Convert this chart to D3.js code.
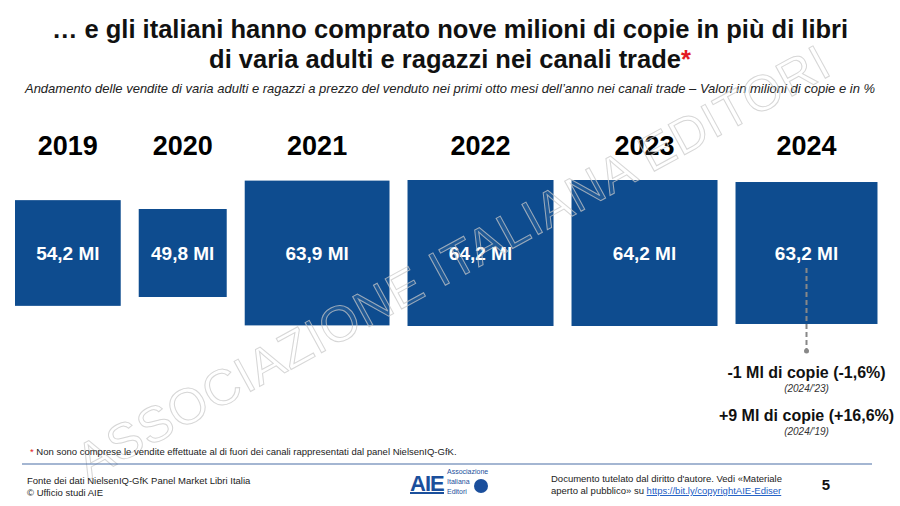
<!DOCTYPE html>
<meta charset="utf-8">
<html lang="it">
<head>
<script src="https://cdn.jsdelivr.net/npm/d3@7"></script>
<style>
  body { margin: 0; background: #fff; }
  svg { font-family: "Liberation Sans", Arial, sans-serif; }
</style>
</head>
<body>
<svg width="900" height="506"></svg>
<script>
    // dati
    const years = ["2019", "2020", "2021", "2022", "2023", "2024"]
    const copies = [54.2, 49.8, 63.9, 64.2, 64.2, 63.2]
    const labels = ["54,2 Ml", "49,8 Ml", "63,9 Ml", "64,2 Ml", "64,2 Ml", "63,2 Ml"]
    const deltas = [
        {main: "-1 Ml di copie (-1,6%)", sub: "(2024/'23)"},
        {main: "+9 Ml di copie (+16,6%)", sub: "(2024/'19)"}
    ]

    const svg = d3.select("svg")
    const blue = "#0e4c8f"

    // titolo
    svg.append("text").attr("x", 450).attr("y", 38).attr("text-anchor", "middle")
        .attr("font-size", 25.5).attr("font-weight", "bold").attr("fill", "#111")
        .text("… e gli italiani hanno comprato nove milioni di copie in più di libri")
    const t2 = svg.append("text").attr("x", 450).attr("y", 68).attr("text-anchor", "middle")
        .attr("font-size", 25.5).attr("font-weight", "bold").attr("fill", "#111")
    t2.append("tspan").text("di varia adulti e ragazzi nei canali trade")
    t2.append("tspan").attr("fill", "#e31b23").text("*")

    svg.append("text").attr("x", 450).attr("y", 93).attr("text-anchor", "middle")
        .attr("font-size", 13).attr("font-style", "italic").attr("fill", "#222")
        .text("Andamento delle vendite di varia adulti e ragazzi a prezzo del venduto nei primi otto mesi dell’anno nei canali trade – Valori in milioni di copie e in %")

    // quadrati
    const side = d3.scaleLinear().domain([49.8, 64.2]).range([88, 146])
    const gap = 18, x0 = 15, cy = 253
    let acc = x0
    const boxes = copies.map((v, i) => {
        const s = side(v)
        const b = {x: acc, s: s, cx: acc + s / 2}
        acc += s + gap
        return b
    })

    const g = svg.append("g")
    const nodes = g.selectAll("g").data(years).enter().append("g")
    nodes.append("rect")
        .attr("x", (d, i) => boxes[i].x)
        .attr("y", (d, i) => cy - boxes[i].s / 2)
        .attr("width", (d, i) => boxes[i].s)
        .attr("height", (d, i) => boxes[i].s)
        .attr("fill", blue)
    nodes.append("text")
        .attr("x", (d, i) => boxes[i].cx).attr("y", cy + 7)
        .attr("text-anchor", "middle").attr("fill", "#fff")
        .attr("font-size", 19).attr("font-weight", "bold")
        .text((d, i) => labels[i])
    nodes.append("text")
        .attr("x", (d, i) => boxes[i].cx).attr("y", 155)
        .attr("text-anchor", "middle").attr("fill", "#000")
        .attr("font-size", 27).attr("font-weight", "bold")
        .text(d => d)

    // freccia
    const last = boxes[boxes.length - 1]
    svg.append("line")
        .attr("x1", last.cx).attr("x2", last.cx)
        .attr("y1", 268).attr("y2", 350)
        .attr("stroke", "#888").attr("stroke-width", 2).attr("stroke-dasharray", "5,3")
    svg.append("circle").attr("cx", last.cx).attr("cy", 351).attr("r", 2.5).attr("fill", "#888")

    deltas.forEach((d, i) => {
        svg.append("text").attr("x", last.cx).attr("y", 378 + i * 43)
            .attr("text-anchor", "middle").attr("font-size", 16).attr("font-weight", "bold")
            .attr("fill", "#111").text(d.main)
        svg.append("text").attr("x", last.cx).attr("y", 392 + i * 43)
            .attr("text-anchor", "middle").attr("font-size", 10).attr("font-style", "italic")
            .attr("fill", "#333").text(d.sub)
    })

    // watermark (sopra)
    svg.append("text")
        .attr("transform", "translate(455,265) rotate(-28.6)")
        .attr("text-anchor", "middle").attr("dominant-baseline", "middle")
        .attr("font-size", 50).attr("fill", "#ffffff").attr("fill-opacity", 0.08)
        .attr("stroke", "#c8c8c8").attr("stroke-opacity", 0.75).attr("stroke-width", 1)
        .attr("letter-spacing", 1)
        .text("ASSOCIAZIONE ITALIANA EDITORI")

    // nota e footer
    const note = svg.append("text").attr("x", 30).attr("y", 455).attr("font-size", 9.5).attr("fill", "#222")
    note.append("tspan").attr("fill", "#e31b23").text("* ")
    note.append("tspan").text("Non sono comprese le vendite effettuate al di fuori dei canali rappresentati dal panel NielsenIQ-GfK.")

    svg.append("line").attr("x1", 22).attr("x2", 872).attr("y1", 464).attr("y2", 464)
        .attr("stroke", "#4a6fa5").attr("stroke-width", 1.2)

    svg.append("text").attr("x", 27).attr("y", 484).attr("font-size", 9.5).attr("fill", "#222")
        .text("Fonte dei dati NielsenIQ-GfK Panel Market Libri Italia")
    svg.append("text").attr("x", 27).attr("y", 496).attr("font-size", 9.5).attr("fill", "#222")
        .text("© Ufficio studi AIE")

    // logo
    svg.append("text").attr("x", 410).attr("y", 491).attr("font-size", 22).attr("font-weight", "bold")
        .attr("fill", "#1b4f9c").attr("letter-spacing", -1).text("AIE")
    svg.append("rect").attr("x", 410).attr("y", 492).attr("width", 34).attr("height", 2).attr("fill", "#1b4f9c")
    ;["Associazione", "Italiana", "Editori"].forEach((s, i) => {
        svg.append("text").attr("x", 447).attr("y", 474 + i * 10).attr("font-size", 7)
            .attr("fill", "#1b4f9c").text(s)
    })
    svg.append("circle").attr("cx", 481).attr("cy", 486).attr("r", 7).attr("fill", "#1b4f9c")

    svg.append("text").attr("x", 551).attr("y", 482).attr("font-size", 9.5).attr("fill", "#222")
        .text("Documento tutelato dal diritto d'autore. Vedi «Materiale")
    const l2 = svg.append("text").attr("x", 551).attr("y", 494).attr("font-size", 9.5).attr("fill", "#222")
    l2.append("tspan").text("aperto al pubblico» su ")
    l2.append("tspan").attr("fill", "#1a5bc4").attr("text-decoration", "underline")
        .text("https://bit.ly/copyrightAIE-Ediser")

    svg.append("text").attr("x", 826).attr("y", 490).attr("text-anchor", "middle")
        .attr("font-size", 15).attr("font-weight", "bold").attr("fill", "#111").text("5")
</script>
</body>
</html>
